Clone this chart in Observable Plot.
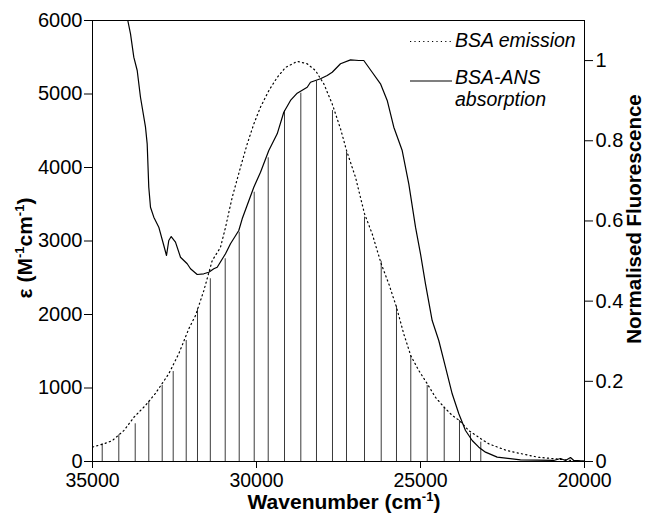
<!DOCTYPE html>
<html><head><meta charset="utf-8">
<script src="https://cdn.jsdelivr.net/npm/d3@7"></script>
<script src="https://cdn.jsdelivr.net/npm/@observablehq/plot@0.6"></script>
<style>body{margin:0;background:#fff} svg{display:block}</style>
</head><body><div id="chart"></div>
<script>
// BSA-ANS absorption (wavenumber cm-1, epsilon M-1 cm-1)
const absWn = [33924,33841,33741,33637,33537,33384,33333,33284,33232,33131,32979,32826,32744,32674,32601,32470,32317,32113,32012,31808,31607,31454,31302,31198,30945,30793,30540,30436,30082,29878,29625,29369,29168,28963,28759,28454,28354,28049,27844,27692,27439,27134,26881,26729,26473,26220,26015,25814,25558,25357,25152,25000,24848,24644,24443,24238,24034,23832,23628,23424,23223,23018,22662,21951,20936,20732,20579,20427,20326,20000];
const absEps = [6000,5819,5501,5320,4956,4548,4322,3732,3460,3324,3188,2939,2803,3007,3061,2984,2779,2690,2622,2544,2554,2575,2622,2643,2826,2962,3143,3302,3732,3936,4231,4458,4752,4912,5011,5092,5160,5207,5252,5296,5411,5465,5456,5456,5296,5139,4912,4548,4231,3778,3188,2826,2418,1918,1646,1283,921,649,422,286,195,127,59,23,14,41,14,54,14,7];
// BSA emission (wavenumber cm-1, normalised fluorescence)
const emWn = [35000,34655,34399,34046,33741,33384,33079,32674,32369,32064,31860,31607,31351,31098,30945,30741,30488,30283,30082,29878,29625,29369,29116,28759,28454,28201,27948,27692,27439,27256,26982,26707,26473,26198,25966,25732,25509,25296,25052,24796,24543,24277,24034,23811,23527,23162,22918,22357,21442,20326,20000];
const emF = [0.036,0.044,0.052,0.077,0.110,0.140,0.170,0.219,0.269,0.331,0.364,0.426,0.501,0.534,0.584,0.659,0.734,0.792,0.842,0.884,0.925,0.958,0.983,0.998,0.992,0.975,0.942,0.892,0.830,0.776,0.709,0.618,0.568,0.493,0.443,0.385,0.318,0.264,0.227,0.194,0.160,0.135,0.115,0.102,0.077,0.057,0.044,0.027,0.011,0.002,0];
// overlap sticks (wavenumber cm-1, height in epsilon units)
const stickWn = [34704,34198,33698,33284,32875,32540,32143,31799,31408,30954,30527,30070,29643,29146,28649,28171,27683,27256,26707,26198,25732,25296,24796,24277,23811,23476,23162];
const stickEps = [241,363,513,816,1034,1224,1646,2077,2486,2758,3120,3664,4132,4775,5011,5174,4775,4208,3324,2725,2113,1442,1034,739,558,377,263];
// axes
const xTicks = [35000,30000,25000,20000];
const leftTicks = [0,1000,2000,3000,4000,5000,6000];
const rightTicks = [0,0.2,0.4,0.6,0.8,1];
const EPS_MAX = 6000, RIGHT_MAX = 1.1;
const k = EPS_MAX / RIGHT_MAX;
const legendLabels = ["BSA emission", "BSA-ANS", "absorption"];

const absorption = absWn.map((w,i)=>({wn:w, eps:absEps[i]}));
const emission = emWn.map((w,i)=>({wn:w, f:emF[i]}));
const sticks = stickWn.map((w,i)=>({wn:w, eps:stickEps[i]}));

const FONT = "'Liberation Sans', Arial, Helvetica, sans-serif";
const plot = Plot.plot({
  width: 646, height: 521,
  marginLeft: 92, marginRight: 62, marginTop: 20, marginBottom: 60,
  style: {fontFamily: FONT, fontSize: "20px", color: "black", background: "white"},
  x: {domain: [35000, 20000]},
  y: {domain: [0, EPS_MAX]},
  marks: [
    Plot.ruleX(sticks, {x: "wn", y1: 0, y2: "eps", stroke: "#3a3a3a", strokeWidth: 1}),
    Plot.line(emission, {x: "wn", y: d => d.f * k, stroke: "black", strokeWidth: 1.2, strokeDasharray: "1.2 3.2"}),
    Plot.line(absorption, {x: "wn", y: "eps", stroke: "black", strokeWidth: 1.2}),
    Plot.frame({stroke: "black", strokeWidth: 1}),
    Plot.axisX({ticks: xTicks, tickFormat: d3.format("d"), tickSize: 7, tickPadding: 5, label: null, fontSize: 19.5}),
    Plot.axisY({anchor: "left", ticks: leftTicks, tickFormat: d3.format("d"), tickSize: 8, tickPadding: 2, label: null}),
    Plot.axisY({anchor: "right", ticks: rightTicks.map(v => v * k), tickFormat: d => String(+(d / k).toFixed(1)), tickSize: 8, tickPadding: 3, label: null})
  ]
});
document.getElementById("chart").appendChild(plot);

const svg = d3.select(plot);
function supLabel(g, parts) {
  parts.forEach(p => {
    if (p.sup) {
      g.append("tspan").attr("dy", -8).attr("font-size", 13).text(p.t);
    } else {
      const t = g.append("tspan").text(p.t);
      if (p.back) t.attr("dy", 8);
    }
  });
}
// left axis label
const ly = svg.append("text").attr("transform", "translate(32,248) rotate(-90)")
  .attr("text-anchor", "middle").attr("font-weight", "bold").attr("font-size", 21).attr("fill", "black");
supLabel(ly, [{t: "ε (M"}, {t: "-1", sup: true}, {t: "cm", back: true}, {t: "-1", sup: true}, {t: ")", back: true}]);
// right axis label
svg.append("text").attr("transform", "translate(641,219) rotate(-90)")
  .attr("text-anchor", "middle").attr("font-weight", "bold").attr("font-size", 20.5).attr("fill", "black")
  .text("Normalised Fluorescence");
// x axis label
const lx = svg.append("text").attr("x", 344).attr("y", 509)
  .attr("text-anchor", "middle").attr("font-weight", "bold").attr("font-size", 21).attr("fill", "black");
supLabel(lx, [{t: "Wavenumber (cm"}, {t: "-1", sup: true}, {t: ")", back: true}]);

// legend
const lg = svg.append("g").attr("font-style", "italic").attr("font-size", 19.5).attr("fill", "black").attr("text-anchor", "start");
lg.append("line").attr("x1", 410).attr("x2", 453).attr("y1", 41.5).attr("y2", 41.5)
  .attr("stroke", "black").attr("stroke-width", 1.2).attr("stroke-dasharray", "1.2 3.2");
lg.append("text").attr("x", 455).attr("y", 47).text(legendLabels[0]);
lg.append("line").attr("x1", 410).attr("x2", 452).attr("y1", 81).attr("y2", 81)
  .attr("stroke", "black").attr("stroke-width", 1.2);
lg.append("text").attr("x", 455).attr("y", 83.5).text(legendLabels[1]);
lg.append("text").attr("x", 455).attr("y", 106).text(legendLabels[2]);
</script>
</body></html>
